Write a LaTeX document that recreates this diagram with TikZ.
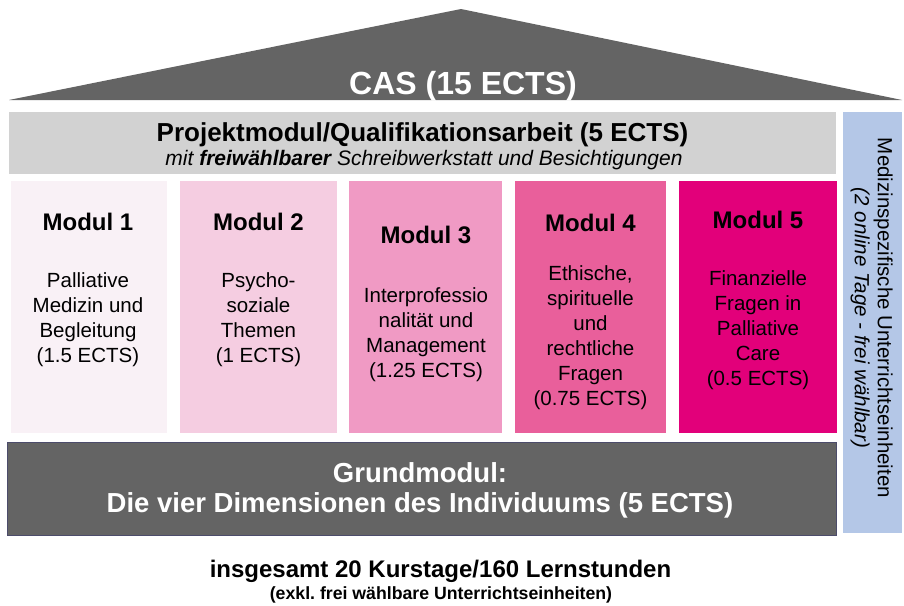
\documentclass[tikz,border=0pt]{standalone}
\usepackage{fontspec}
\setmainfont{Liberation Sans}
\frenchspacing
\newcommand\mlines[1]{\begin{tabular}[t]{@{}c@{}}#1\end{tabular}}
\definecolor{roofgray}{HTML}{646464}
\definecolor{projgray}{HTML}{D2D2D2}
\definecolor{sideblue}{HTML}{B4C7E7}
\definecolor{mA}{HTML}{F9F1F6}
\definecolor{mB}{HTML}{F5CDE1}
\definecolor{mC}{HTML}{F09AC4}
\definecolor{mD}{HTML}{E95F9B}
\definecolor{mE}{HTML}{E2007A}
\begin{document}
\begin{tikzpicture}[x=1pt,y=-1pt,
  box/.style={draw=none,inner sep=0pt,outer sep=0pt,anchor=north west},
  modtitle/.style={font=\fontsize{24}{28}\selectfont\bfseries,anchor=base,inner sep=0pt},
  modbody/.style={font=\fontsize{20.5}{25}\selectfont,anchor=base,inner sep=0pt},
]
\useasboundingbox[fill=white] (0,0) rectangle (904,605);
% roof
\coordinate (roofL) at (9,100);
\coordinate (roofT) at (461,9);
\coordinate (roofR) at (902,100);
\fill[roofgray] (roofL) -- (roofT) -- (roofR) -- cycle;
\node[anchor=base,inner sep=0pt,text=white,font=\fontsize{32}{38}\selectfont\bfseries] (cas) at (463,94) {CAS (15 ECTS)};
% project module
\node[box,fill=projgray,minimum width=827pt,minimum height=62pt] (proj) at (9,112) {};
\node[anchor=base,inner sep=0pt,font=\fontsize{26}{30}\selectfont\bfseries] (projt) at (422.5,141) {Projektmodul/Qualifikationsarbeit (5 ECTS)};
\node[anchor=base,inner sep=0pt,font=\fontsize{21}{25}\selectfont\itshape] (projs) at (424,165) {mit \textbf{freiwählbarer} Schreibwerkstatt und Besichtigungen};
% side box
\node[box,fill=sideblue,minimum width=59pt,minimum height=421pt] (side) at (843,112) {};
\node[rotate=-90,inner sep=0pt,font=\fontsize{20.5}{23}\selectfont] (sidet) at (871,318) {\begin{tabular}{@{}c@{}}Medizinspezifische Unterrichtseinheiten\\ \itshape(2 online Tage - frei wählbar)\end{tabular}};
% modules
\node[box,fill=mA,minimum width=156pt,minimum height=252pt] (m1) at (11,181) {};
\node[box,fill=mB,minimum width=157pt,minimum height=252pt] (m2) at (180,181) {};
\node[box,fill=mC,minimum width=153pt,minimum height=252pt] (m3) at (349,181) {};
\node[box,fill=mD,minimum width=151pt,minimum height=252pt] (m4) at (515,181) {};
\node[box,fill=mE,minimum width=158pt,minimum height=252pt] (m5) at (679,181) {};
\node[modtitle] (t1) at (88,230) {Modul 1};
\node[modtitle] (t2) at (258.5,230) {Modul 2};
\node[modtitle] (t3) at (426,243) {Modul 3};
\node[modtitle] (t4) at (590.5,231) {Modul 4};
\node[modtitle] (t5) at (758,228) {Modul 5};
\node[modbody] (b1) at (88,287) {\mlines{Palliative\\Medizin und\\Begleitung\\(1.5 ECTS)}};
\node[modbody] (b2) at (258.5,287) {\mlines{Psycho-\\soziale\\Themen\\(1 ECTS)}};
\node[modbody] (b3) at (426,302) {\mlines{Interprofessio\\nalität und\\Management\\(1.25 ECTS)}};
\node[modbody] (b4) at (590.5,280) {\mlines{Ethische,\\spirituelle\\und\\rechtliche\\Fragen\\(0.75 ECTS)}};
\node[modbody] (b5) at (758,285) {\mlines{Finanzielle\\Fragen in\\Palliative\\Care\\(0.5 ECTS)}};
% base module
\node[box,fill=roofgray,draw=black!70!blue!40!gray,line width=0.8pt,minimum width=829pt,minimum height=93pt] (grund) at (7,442) {};
\node[anchor=base,inner sep=0pt,text=white,font=\fontsize{27.5}{30}\selectfont\bfseries] (grundt) at (420,482) {\mlines{Grundmodul:\\Die vier Dimensionen des Individuums (5 ECTS)}};
% bottom text
\node[anchor=base,inner sep=0pt,font=\fontsize{24}{28}\selectfont\bfseries] (tot) at (440.5,577) {insgesamt 20 Kurstage/160 Lernstunden};
\node[anchor=base,inner sep=0pt,font=\fontsize{17.7}{20}\selectfont\bfseries] (excl) at (441,599) {(exkl. frei wählbare Unterrichtseinheiten)};
\end{tikzpicture}
\end{document}
